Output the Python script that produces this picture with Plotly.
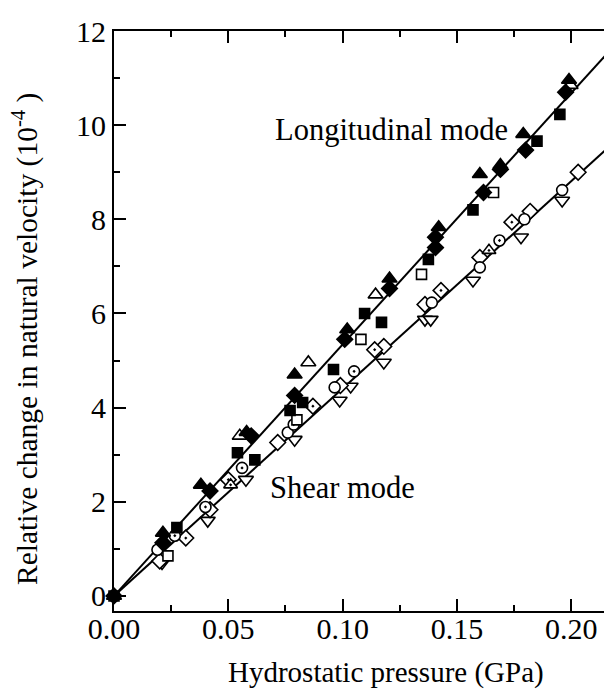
import plotly.graph_objects as go

# ---------------- data ----------------
# Longitudinal mode
long_tri_filled_x = [0.0, 0.0214, 0.038, 0.058, 0.079, 0.102, 0.1205, 0.142, 0.160, 0.169, 0.179, 0.199]
long_tri_filled_y = [0.0, 1.34, 2.36, 3.48, 4.70, 5.66, 6.74, 7.83, 8.96, 9.15, 9.81, 10.96]
long_dia_filled_x = [0.0, 0.0214, 0.042, 0.060, 0.079, 0.1009, 0.1205, 0.1406, 0.1406, 0.1616, 0.169, 0.180, 0.1975]
long_dia_filled_y = [0.0, 1.13, 2.23, 3.40, 4.26, 5.45, 6.53, 7.40, 7.62, 8.57, 9.06, 9.47, 10.70]
long_sq_filled_x = [0.0, 0.0275, 0.054, 0.0616, 0.077, 0.0825, 0.096, 0.1096, 0.117, 0.1375, 0.157, 0.185, 0.195]
long_sq_filled_y = [0.0, 1.45, 3.04, 2.89, 3.94, 4.11, 4.81, 6.00, 5.81, 7.15, 8.20, 9.66, 10.23]
long_tri_open_x = [0.055, 0.085, 0.1144, 0.1997]
long_tri_open_y = [3.40, 4.96, 6.40, 10.85]
long_sq_open_x = [0.0236, 0.080, 0.108, 0.1345, 0.166]
long_sq_open_y = [0.85, 3.74, 5.45, 6.83, 8.57]

# Shear mode
shear_circ_dot_x = [0.0, 0.0266, 0.040, 0.056, 0.0786, 0.105, 0.1686]
shear_circ_dot_y = [0.0, 1.28, 1.89, 2.72, 3.64, 4.77, 7.55]
shear_circ_x = [0.019, 0.076, 0.0965, 0.139, 0.160, 0.1795, 0.196]
shear_circ_y = [0.98, 3.47, 4.43, 6.23, 6.98, 8.00, 8.62]
shear_dia_dot_x = [0.0314, 0.050, 0.087, 0.114, 0.143, 0.174]
shear_dia_dot_y = [1.23, 2.47, 4.03, 5.23, 6.49, 7.94]
shear_dia_x = [0.020, 0.042, 0.0716, 0.099, 0.118, 0.136, 0.160, 0.182, 0.203]
shear_dia_y = [0.74, 1.83, 3.26, 4.47, 5.30, 6.19, 7.19, 8.17, 9.00]
shear_tdown_x = [0.021, 0.041, 0.0577, 0.079, 0.0987, 0.1035, 0.118, 0.136, 0.1385, 0.157, 0.178, 0.196]
shear_tdown_y = [0.70, 1.60, 2.47, 3.32, 4.15, 4.45, 4.96, 5.87, 5.87, 6.70, 7.62, 8.40]
shear_tup_dot_x = [0.051, 0.164]
shear_tup_dot_y = [2.36, 7.34]

# linear fits
long_fit_x = [0.0, 0.2175]
long_fit_y = [0.0, 11.62]
shear_fit_x = [0.0, 0.2213]
shear_fit_y = [0.0, 9.75]

x_tick_vals = [0.0, 0.05, 0.10, 0.15, 0.20]
x_tick_text = ["0.00", "0.05", "0.10", "0.15", "0.20"]
y_tick_vals = [0, 2, 4, 6, 8, 10, 12]

X_TITLE = "Hydrostatic pressure (GPa)"
Y_TITLE = "Relative change in natural velocity (10<sup>-4</sup> )"

FONT = "Liberation Serif, Times New Roman, Times, DejaVu Serif, serif"
W, H = 612, 690
ML, MR, MT, MB = 106, 0, 23, 87

fig = go.Figure()

fig.add_trace(go.Scatter(x=long_fit_x, y=long_fit_y, mode="lines",
                         line=dict(color="black", width=2), showlegend=False, cliponaxis=False))
fig.add_trace(go.Scatter(x=shear_fit_x, y=shear_fit_y, mode="lines",
                         line=dict(color="black", width=2), showlegend=False, cliponaxis=False))

def add_pts(x, y, symbol, size=11, filled=False):
    fig.add_trace(go.Scatter(
        x=x, y=y, mode="markers", showlegend=False, cliponaxis=False,
        marker=dict(symbol=symbol, size=size,
                    color="black" if filled else "white",
                    line=dict(color="black", width=1.6))))

add_pts(shear_tdown_x, shear_tdown_y, "triangle-down", 13)
add_pts(shear_dia_x, shear_dia_y, "diamond", 12)
add_pts(shear_circ_x, shear_circ_y, "circle", 11)
add_pts(shear_dia_dot_x, shear_dia_dot_y, "diamond-dot", 12)
add_pts(shear_circ_dot_x, shear_circ_dot_y, "circle-dot", 11)
add_pts(shear_tup_dot_x, shear_tup_dot_y, "triangle-up-dot", 12)

add_pts(long_sq_open_x, long_sq_open_y, "square", 10)
add_pts(long_tri_open_x, long_tri_open_y, "triangle-up", 13)
add_pts(long_sq_filled_x, long_sq_filled_y, "square", 10, True)
add_pts(long_dia_filled_x, long_dia_filled_y, "diamond", 12, True)
add_pts(long_tri_filled_x, long_tri_filled_y, "triangle-up", 13, True)

# trace on the right-hand tick axis so it renders
fig.add_trace(go.Scatter(x=[None], y=[None], yaxis="y2", showlegend=False))

fig.add_annotation(x=0.0694, y=9.90, xref="x", yref="y", text="Longitudinal mode",
                   showarrow=False, xanchor="left", yanchor="middle",
                   font=dict(family=FONT, size=30.5, color="black"))
fig.add_annotation(x=0.0672, y=2.30, xref="x", yref="y", text="Shear mode",
                   showarrow=False, xanchor="left", yanchor="middle",
                   font=dict(family=FONT, size=30.5, color="black"))

# axis titles as paper annotations (pixel-placed)
pw, ph = W - ML - MR, H - MT - MB
fig.add_annotation(x=(378 - ML) / pw, y=(H - MB - 664) / ph, xref="paper", yref="paper",
                   text=X_TITLE, showarrow=False, xanchor="center", yanchor="middle",
                   font=dict(family=FONT, size=29, color="black"))
fig.add_annotation(x=(17 - ML) / pw, y=(H - MB - 331) / ph, xref="paper", yref="paper",
                   text=Y_TITLE, showarrow=False, xanchor="center", yanchor="middle",
                   textangle=-90, font=dict(family=FONT, size=29.5, color="black"))

fig.update_layout(
    width=W, height=H,
    margin=dict(l=ML, r=MR, t=MT, b=MB),
    paper_bgcolor="white", plot_bgcolor="white",
    font=dict(family=FONT, size=30, color="black"),
    xaxis=dict(range=[0, 0.2213], showline=True, linecolor="black", linewidth=2,
               mirror="ticks", ticks="inside", ticklen=12, tickwidth=2, tickcolor="black",
               tickvals=x_tick_vals, ticktext=x_tick_text, showgrid=False, zeroline=False,
               ticklabelstandoff=-10,
               minor=dict(dtick=0.025, tick0=0, ticks="inside", ticklen=6, tickwidth=2,
                          tickcolor="black", showgrid=False)),
    yaxis=dict(range=[-0.32, 12], showline=True, linecolor="black", linewidth=2,
               mirror=False, ticks="inside", ticklen=12, tickwidth=2, tickcolor="black",
               tickvals=y_tick_vals, showgrid=False, zeroline=False,
               minor=dict(dtick=1, tick0=0, ticks="inside", ticklen=6, tickwidth=2,
                          tickcolor="black", showgrid=False)),
    yaxis2=dict(range=[-0.32, 12], overlaying="y", side="right", showline=False,
                ticks="inside", ticklen=8, tickwidth=2, tickcolor="black",
                tickvals=y_tick_vals, showticklabels=False, showgrid=False, zeroline=False,
                minor=dict(dtick=1, tick0=0, ticks="inside", ticklen=5, tickwidth=2,
                           tickcolor="black", showgrid=False)),
)

fig.write_html("out.html")
